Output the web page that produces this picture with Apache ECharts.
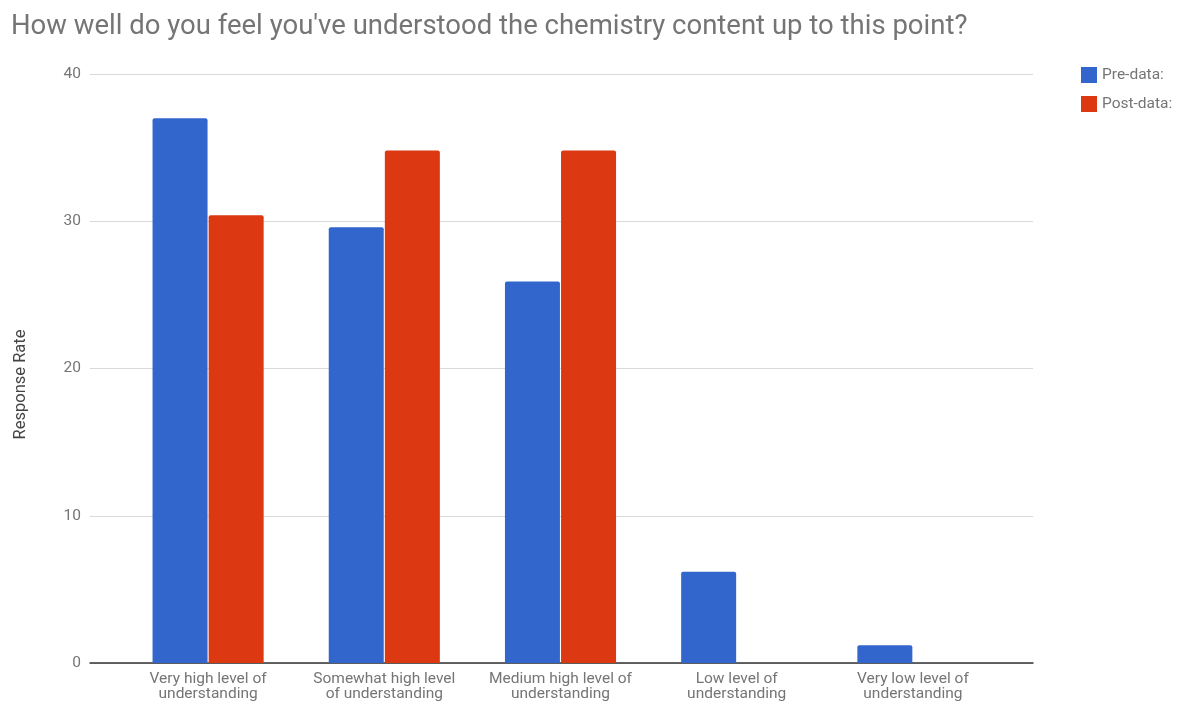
<!DOCTYPE html>
<html>
<head>
<meta charset="utf-8">
<script src="https://cdn.jsdelivr.net/npm/echarts@6/dist/echarts.min.js"></script>
<style>
  html, body { margin: 0; padding: 0; background: #ffffff; }
  #chart { width: 1188px; height: 704px; }
</style>
</head>
<body>
<div id="chart"></div>
<script>
const titleText = "How well do you feel you've understood the chemistry content up to this point?";
const categories = [
  "Very high level of\nunderstanding",
  "Somewhat high level\nof understanding",
  "Medium high level of\nunderstanding",
  "Low level of\nunderstanding",
  "Very low level of\nunderstanding"
];
const preData = [37.0, 29.6, 25.9, 6.2, 1.2];
const postData = [30.4, 34.8, 34.8, 0, 0];
const seriesNames = ["Pre-data:", "Post-data:"];
const yTicks = { min: 0, max: 40, interval: 10 };

const chart = echarts.init(document.getElementById('chart'), null, { renderer: 'canvas' });

const textGray = '#757575';
const font = 'Roboto, "Noto Sans", sans-serif';

chart.setOption({
  animation: false,
  backgroundColor: '#ffffff',
  color: ['#3366cc', '#dc3912'],
  title: {
    text: titleText,
    left: 6,
    top: 8,
    textStyle: { color: textGray, fontFamily: font, fontSize: 27.5, fontWeight: 'normal' }
  },
  legend: {
    orient: 'vertical',
    left: 1076,
    top: 62,
    itemWidth: 16,
    itemHeight: 16,
    itemGap: 13,
    icon: 'rect',
    textStyle: { color: textGray, fontFamily: font, fontSize: 15.5 },
    data: seriesNames
  },
  grid: [
    // full-width frame carrying the value gridlines and baseline
    { left: 90, right: 155, top: 74, bottom: 41 },
    // inner area where the category bars sit
    { left: 120, right: 187, top: 74, bottom: 41 }
  ],
  xAxis: [
    {
      gridIndex: 0, type: 'category', data: [''],
      axisLine: { show: true, lineStyle: { color: '#333333', width: 1.5 } },
      axisTick: { show: false }, axisLabel: { show: false }
    },
    {
      gridIndex: 1, type: 'category', data: categories,
      axisLine: { show: false }, axisTick: { show: false },
      axisLabel: {
        color: textGray, fontFamily: font, fontSize: 15.5, lineHeight: 15,
        margin: 9, interval: 0
      }
    }
  ],
  yAxis: [
    {
      gridIndex: 0, type: 'value', min: yTicks.min, max: yTicks.max, interval: yTicks.interval,
      name: 'Response Rate', nameLocation: 'middle', nameGap: 61, nameRotate: 90,
      nameTextStyle: {
        color: '#444444', fontFamily: font, fontSize: 16.5,
        padding: [0, 32, 0, 0]
      },
      axisLine: { show: false }, axisTick: { show: false },
      axisLabel: { color: textGray, fontFamily: font, fontSize: 15.5, margin: 9 },
      splitLine: { show: true, lineStyle: { color: '#d9d9d9', width: 1 } }
    },
    {
      gridIndex: 1, type: 'value', min: yTicks.min, max: yTicks.max, interval: yTicks.interval,
      show: false, splitLine: { show: false }
    }
  ],
  series: [
    {
      name: seriesNames[0], type: 'bar', xAxisIndex: 1, yAxisIndex: 1,
      data: preData, barWidth: 55, barGap: '2%',
      itemStyle: { color: '#3366cc', borderRadius: [2, 2, 0, 0] }
    },
    {
      name: seriesNames[1], type: 'bar', xAxisIndex: 1, yAxisIndex: 1,
      data: postData, barWidth: 55, barGap: '2%',
      itemStyle: { color: '#dc3912', borderRadius: [2, 2, 0, 0] }
    }
  ]
});
</script>
</body>
</html>
